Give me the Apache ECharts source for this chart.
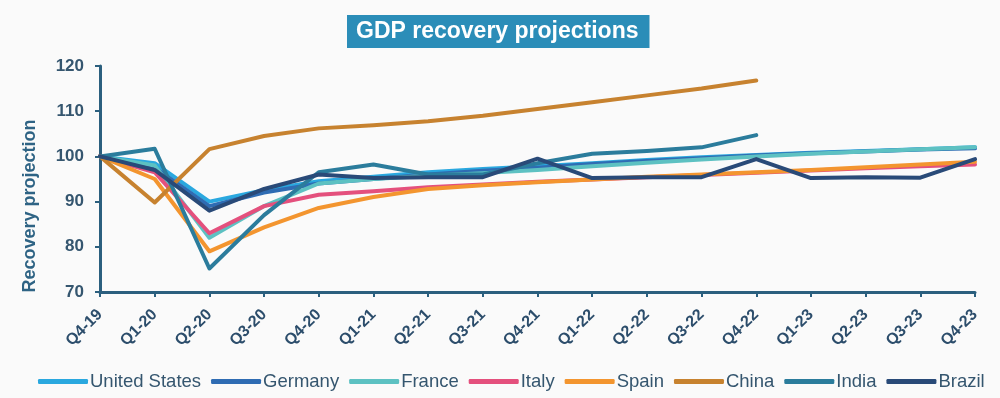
<!DOCTYPE html>
<html>
<head>
<meta charset="utf-8">
<script src="https://cdn.jsdelivr.net/npm/echarts@6/dist/echarts.min.js"></script>
<style>
  html, body { margin: 0; padding: 0; background: #fafafa; }
  #chart { width: 1000px; height: 398px; }
</style>
</head>
<body>
<div id="chart"></div>
<script>
// quarters on the x axis
const quarters = ['Q4-19', 'Q1-20', 'Q2-20', 'Q3-20', 'Q4-20', 'Q1-21', 'Q2-21', 'Q3-21', 'Q4-21',
  'Q1-22', 'Q2-22', 'Q3-22', 'Q4-22', 'Q1-23', 'Q2-23', 'Q3-23', 'Q4-23'];

// recovery projection per country (Q4-19 = 100)
const unitedStates = [100, 98.5, 90, 92.5, 94.5, 95.5, 96.5, 97.2, 97.8, 98.5, 99.2, 99.8, 100.3, 100.8, 101.2, 101.6, 102];
const germany = [100, 97.5, 89, 92, 94, 95, 96, 96.8, 97.5, 98.3, 99, 99.6, 100.2, 100.7, 101.1, 101.5, 101.8];
const france = [100, 98, 82, 89, 94, 95, 95.7, 96.3, 97, 97.8, 98.6, 99.3, 100, 100.6, 101.1, 101.6, 102];
const italy = [100, 96.5, 83, 89, 91.5, 92.3, 93.2, 93.8, 94.4, 94.9, 95.4, 95.9, 96.4, 96.9, 97.4, 97.8, 98.2];
const spain = [100, 95, 79, 84.3, 88.6, 91, 92.8, 93.6, 94.3, 94.9, 95.5, 96, 96.5, 97, 97.6, 98.2, 98.8];
const china = [100, 89.8, 101.6, 104.5, 106.2, 106.9, 107.8, 109, 110.5, 112, 113.5, 115, 116.8];
const india = [100, 101.7, 75.2, 87, 96.5, 98.2, 96, 96, 98.5, 100.6, 101.2, 102, 104.7];
const brazil = [100, 97, 88, 92.8, 96, 95.2, 95.4, 95.4, 99.5, 95.2, 95.4, 95.4, 99.4, 95.2, 95.4, 95.3, 99.4];

const yTicks = [70, 80, 90, 100, 110, 120];

const countries = [
  { name: 'United States', data: unitedStates, color: '#2aa8df' },
  { name: 'Germany', data: germany, color: '#2f6cb3' },
  { name: 'France', data: france, color: '#5dc1c2' },
  { name: 'Italy', data: italy, color: '#e4507d' },
  { name: 'Spain', data: spain, color: '#f3952f' },
  { name: 'China', data: china, color: '#c7822f' },
  { name: 'India', data: india, color: '#2b7c9c' },
  { name: 'Brazil', data: brazil, color: '#294a78' }
];

const axisColor = '#2b5f7e';
const labelColor = '#35566f';
const fontFamily = 'Liberation Sans, Arial, sans-serif';

let chart = echarts.init(document.getElementById('chart'));

let option = {
  backgroundColor: '#fafafa',
  animation: false,
  title: {
    text: 'GDP recovery projections',
    left: 347,
    top: 15,
    backgroundColor: '#2b8db8',
    padding: [5, 11, 5, 9],
    textStyle: {
      color: '#ffffff',
      fontFamily: fontFamily,
      fontWeight: 'bold',
      fontSize: 23
    }
  },
  // y axis title sits a bit below the axis middle in the original
  graphic: [{
    type: 'text',
    x: 30,
    y: 206,
    rotation: Math.PI / 2,
    style: {
      text: 'Recovery projection',
      fill: '#2e6384',
      font: 'bold 18px ' + fontFamily,
      align: 'center',
      verticalAlign: 'middle'
    }
  }],
  legend: {
    bottom: 2,
    left: 33,
    icon: 'roundRect',
    itemWidth: 50,
    itemHeight: 5,
    itemGap: 10,
    textStyle: {
      color: labelColor,
      fontFamily: fontFamily,
      fontSize: 18.5,
      padding: [0, 0, 0, -3]
    },
    data: countries.map(c => c.name)
  },
  grid: {
    left: 100,
    right: 25,
    top: 66,
    bottom: 106
  },
  xAxis: {
    type: 'category',
    data: quarters,
    boundaryGap: false,
    axisLine: { lineStyle: { color: axisColor, width: 3 } },
    axisTick: { length: 5, lineStyle: { color: axisColor, width: 2 } },
    axisLabel: {
      rotate: 45,
      color: '#2c4d6b',
      fontFamily: fontFamily,
      fontWeight: 'bold',
      fontSize: 16,
      margin: 20
    },
    splitLine: { show: false }
  },
  yAxis: {
    type: 'value',
    min: yTicks[0],
    max: yTicks[yTicks.length - 1],
    interval: 10,
    axisLine: { show: true, lineStyle: { color: axisColor, width: 3 } },
    axisTick: { show: true, length: 5, lineStyle: { color: axisColor, width: 2 } },
    axisLabel: {
      color: labelColor,
      fontFamily: fontFamily,
      fontWeight: 'bold',
      fontSize: 17,
      margin: 16
    },
    splitLine: { show: false }
  },
  series: countries.map(c => ({
    name: c.name,
    type: 'line',
    data: c.data,
    showSymbol: false,
    symbol: 'none',
    color: c.color,
    lineStyle: { width: 4, color: c.color, cap: 'round', join: 'round' }
  }))
};

chart.setOption(option);
</script>
</body>
</html>
